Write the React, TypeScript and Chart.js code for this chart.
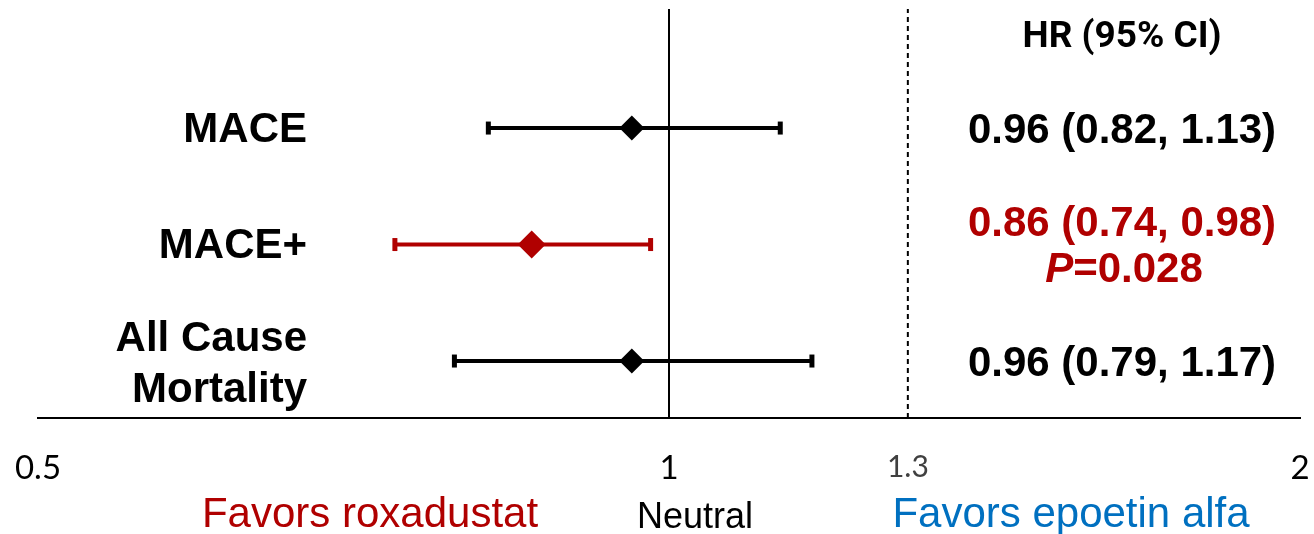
import { useEffect, useRef } from 'react';
import { Chart, registerables } from 'chart.js';

Chart.register(...registerables);

// ---- data ----
const OUTCOMES = ['MACE', 'MACE+', 'All Cause\nMortality'];
const HR = [0.96, 0.86, 0.96];
const LOWER = [0.82, 0.74, 0.79];
const UPPER = [1.13, 0.98, 1.17];
const ROW_POS = [3, 2, 1];
const HR_TEXT = ['0.96 (0.82, 1.13)', '0.86 (0.74, 0.98)', '0.96 (0.79, 1.17)'];
const P_TEXT = ['', '0.028', ''];
const SIGNIFICANT = [false, true, false];
const X_TICKS = [0.5, 1, 1.3, 2];
const X_TICK_LABELS = ['0.5', '1', '1.3', '2'];
const REF_NEUTRAL = 1;
const REF_THRESHOLD = 1.3;
const HEADER = 'HR (95% CI)';
const FAVOR_LEFT = 'Favors roxadustat';
const NEUTRAL = 'Neutral';
const FAVOR_RIGHT = 'Favors epoetin alfa';

const RED = '#B00000';
const BLUE = '#0070C0';
const BLACK = '#000000';
const ARIAL = '"Liberation Sans", Arial, sans-serif';
const CALIBRI = 'Lato, "Open Sans", sans-serif';
const CALIBRI_BOLD = 'Roboto, "Noto Sans", sans-serif';

const Y_MIN = 0.511;
const Y_MAX = 4.022;

const textPlugin = {
  id: 'forestText',
  afterDraw(chart: any) {
    const ctx = chart.ctx as CanvasRenderingContext2D;
    const y = chart.scales.y;
    ctx.save();
    ctx.textBaseline = 'middle';

    // outcome labels (left)
    ctx.textAlign = 'right';
    ctx.fillStyle = BLACK;
    ctx.font = `bold 42px ${ARIAL}`;
    OUTCOMES.forEach((label, i) => {
      const lines = label.split('\n');
      const py = y.getPixelForValue(ROW_POS[i]) + 2;
      const gap = 51;
      lines.forEach((ln, j) => {
        const off = (j - (lines.length - 1) / 2) * gap;
        ctx.fillText(ln, 307, py + off + (lines.length > 1 ? 2 : 0));
      });
    });

    // header
    ctx.textAlign = 'center';
    ctx.font = `bold 37px ${CALIBRI_BOLD}`;
    ctx.fillText(HEADER, 1122, 38);

    // HR texts
    ctx.font = `bold 42px ${ARIAL}`;
    HR_TEXT.forEach((t, i) => {
      const py = y.getPixelForValue(ROW_POS[i]) + 2;
      ctx.fillStyle = SIGNIFICANT[i] ? RED : BLACK;
      if (P_TEXT[i]) {
        ctx.textAlign = 'center';
        ctx.fillText(t, 1122, py - 22);
        ctx.textAlign = 'left';
        ctx.font = `italic bold 42px ${ARIAL}`;
        const wP = ctx.measureText('P').width;
        ctx.font = `bold 42px ${ARIAL}`;
        const rest = '=' + P_TEXT[i];
        const wR = ctx.measureText(rest).width;
        const x0 = 1124 - (wP + wR) / 2;
        ctx.font = `italic bold 42px ${ARIAL}`;
        ctx.fillText('P', x0, py + 24);
        ctx.font = `bold 42px ${ARIAL}`;
        ctx.fillText(rest, x0 + wP, py + 24);
      } else {
        ctx.textAlign = 'center';
        ctx.fillText(t, 1122, py + 1);
      }
    });

    // bottom labels
    ctx.textAlign = 'center';
    ctx.font = `42px ${ARIAL}`;
    ctx.fillStyle = RED;
    ctx.fillText(FAVOR_LEFT, 370, 515);
    ctx.fillStyle = BLUE;
    ctx.fillText(FAVOR_RIGHT, 1071, 515);
    ctx.font = `36px ${ARIAL}`;
    ctx.fillStyle = BLACK;
    ctx.fillText(NEUTRAL, 695, 518);
    ctx.restore();
  },
};

export default function App() {
  const ref = useRef<HTMLCanvasElement>(null);

  useEffect(() => {
    document.body.style.margin = '0';
    const canvas = ref.current;
    if (!canvas) return;

    const diamonds = {
      type: 'scatter' as const,
      label: 'HR',
      data: HR.map((v, i) => ({ x: v, y: ROW_POS[i] })),
      pointStyle: 'rectRot',
      pointRadius: HR.map((_, i) => (SIGNIFICANT[i] ? 14 : 12.5)),
      pointBackgroundColor: HR.map((_, i) => (SIGNIFICANT[i] ? RED : BLACK)),
      pointBorderColor: HR.map((_, i) => (SIGNIFICANT[i] ? RED : BLACK)),
      pointBorderWidth: 0,
      showLine: false,
      order: 0,
    };

    const bars = HR.map((_, i) => ({
      type: 'line' as const,
      label: 'CI ' + i,
      data: [
        { x: LOWER[i], y: ROW_POS[i] },
        { x: UPPER[i], y: ROW_POS[i] },
      ],
      borderColor: SIGNIFICANT[i] ? RED : BLACK,
      borderWidth: 4,
      pointStyle: 'line',
      rotation: 90,
      pointRadius: 6.5,
      pointBorderWidth: 5,
      pointBorderColor: SIGNIFICANT[i] ? RED : BLACK,
      pointBackgroundColor: SIGNIFICANT[i] ? RED : BLACK,
      order: 1,
    }));

    const refLines = [
      {
        type: 'line' as const,
        label: 'neutral',
        data: [
          { x: REF_NEUTRAL, y: Y_MIN },
          { x: REF_NEUTRAL, y: Y_MAX },
        ],
        borderColor: BLACK,
        borderWidth: 2,
        pointRadius: 0,
        order: 2,
      },
      {
        type: 'line' as const,
        label: 'threshold',
        data: [
          { x: REF_THRESHOLD, y: Y_MIN },
          { x: REF_THRESHOLD, y: Y_MAX },
        ],
        borderColor: BLACK,
        borderWidth: 2,
        borderDash: [5, 4],
        pointRadius: 0,
        order: 2,
      },
    ];

    const chart = new Chart(canvas, {
      type: 'scatter',
      data: { datasets: [diamonds, ...bars, ...refLines] as any },
      options: {
        responsive: false,
        animation: false,
        devicePixelRatio: 1,
        layout: { autoPadding: false, padding: { left: 38, right: 14, top: 9, bottom: 0 } },
        plugins: {
          legend: { display: false },
          tooltip: { enabled: false },
          title: { display: false },
        },
        scales: {
          x: {
            type: 'logarithmic',
            min: 0.5,
            max: 2,
            afterBuildTicks: (scale: any) => {
              scale.ticks = X_TICKS.map((v) => ({ value: v }));
            },
            afterFit: (scale: any) => {
              scale.height = 116;
              scale.paddingLeft = 0;
              scale.paddingRight = 0;
              scale.paddingTop = 0;
              scale.paddingBottom = 0;
            },
            grid: { display: false, drawTicks: false },
            border: { display: true, color: BLACK, width: 2 },
            ticks: {
              autoSkip: false,
              maxRotation: 0,
              padding: 31,
              callback: (_v: any, index: number) => X_TICK_LABELS[index],
              color: (c: any) => (c.tick && c.tick.value === 1.3 ? '#404040' : BLACK),
              font: (c: any) =>
                c.tick && c.tick.value === 1.3
                  ? { family: CALIBRI, size: 30 }
                  : { family: CALIBRI, size: 33 },
            },
          },
          y: {
            type: 'linear',
            min: Y_MIN,
            max: Y_MAX,
            display: false,
          },
        },
      } as any,
      plugins: [textPlugin],
    });

    return () => chart.destroy();
  }, []);

  return (
    <div style={{ width: 1314, height: 534 }}>
      <canvas ref={ref} width={1314} height={534} style={{ display: 'block' }} />
    </div>
  );
}
